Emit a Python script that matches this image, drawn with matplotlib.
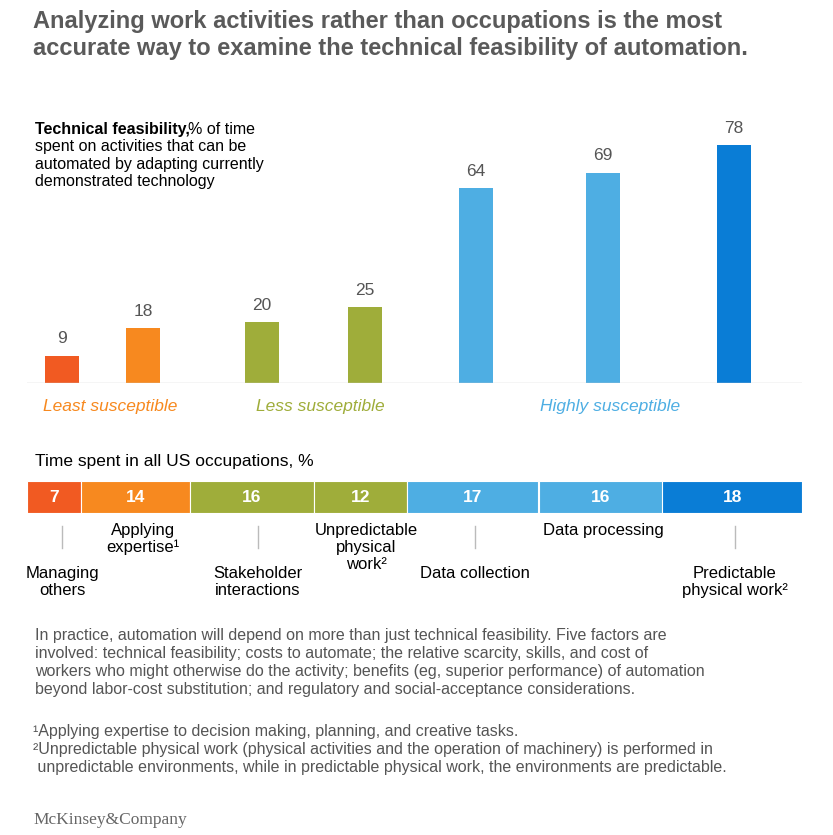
import matplotlib
matplotlib.use("Agg")
import matplotlib.pyplot as plt

plt.rcParams["font.family"] = ["Liberation Sans", "DejaVu Sans"]

W, H = 833, 835

# data
feas_values = [9, 18, 20, 25, 64, 69, 78]
feas_colors = ["#f15a22", "#f7891f", "#9fad3a", "#9fad3a", "#4eaee3", "#4eaee3", "#0a7dd6"]
groups = ["Least susceptible", "Less susceptible", "Highly susceptible"]
group_colors = ["#f7891f", "#9fad3a", "#4eaee3"]

time_values = [7, 14, 16, 12, 17, 16, 18]
time_labels = ["Managing\nothers", "Applying\nexpertise\u00b9", "Stakeholder\ninteractions",
               "Unpredictable\nphysical\nwork\u00b2", "Data collection", "Data processing",
               "Predictable\nphysical work\u00b2"]

fig = plt.figure(figsize=(W / 100, H / 100), dpi=100)
fig.patch.set_facecolor("white")

def fx(px):
    return px / W

def fy(py):
    return 1 - py / H

# title
fig.text(fx(33), fy(10), "Analyzing work activities rather than occupations is the most\n"
         "accurate way to examine the technical feasibility of automation.",
         fontsize=17, fontweight="bold", color="#5a5a5a", va="top", ha="left", linespacing=1.2)

fig.text(fx(35), fy(122), "Technical feasibility,", fontsize=11.5, fontweight="bold",
         va="top", ha="left")
fig.text(fx(35), fy(122), "                                  % of time\n"
         "spent on activities that can be\nautomated by adapting currently\ndemonstrated technology",
         fontsize=11.5, va="top", ha="left", linespacing=1.2)

# top bar chart: pixel x coords as axis units
bar_x = [62, 143, 262, 365, 476, 603, 734]
ax = fig.add_axes([fx(27), fy(383), fx(802 - 27), (383 - 100) / H])
ax.set_xlim(27, 802)
ax.set_ylim(0, (383 - 100) / 3.05)
ax.bar(bar_x, feas_values, width=34, color=feas_colors)
for x, v in zip(bar_x, feas_values):
    ax.text(x, v + 3, str(v), ha="center", va="bottom", fontsize=12.5, color="#555555")
ax.axhline(0, color="#cccccc", lw=1)
ax.axis("off")

for gx, g, c in zip([110, 320, 610], groups, group_colors):
    fig.text(fx(gx), fy(407), g, color=c, style="italic", fontsize=12.5, ha="center", va="center")

fig.text(fx(35), fy(461), "Time spent in all US occupations, %", fontsize=12.5, ha="left", va="center")

# stacked bar
ax2 = fig.add_axes([fx(27), fy(513), fx(775), 32 / H])
ax2.set_xlim(0, 100)
ax2.set_ylim(0, 1)
left = 0
for v, c in zip(time_values, feas_colors):
    ax2.barh(0.5, v, left=left, height=1, color=c, edgecolor="white", linewidth=0.8)
    ax2.text(left + v / 2, 0.5, str(v), color="white", fontsize=12.5, fontweight="bold",
             ha="center", va="center")
    left += v
ax2.axis("off")

# labels under stacked bar
label_x = [62, 143, 258, 366, 475, 603, 735]
low = [True, False, True, False, True, False, True]
for x, lab, lo in zip(label_x, time_labels, low):
    if lo:
        fig.add_artist(plt.Line2D([fx(x), fx(x)], [fy(526), fy(548)], color="#bbbbbb", lw=1))
        fig.text(fx(x), fy(566), lab, ha="center", va="top", fontsize=12, linespacing=1.15)
    else:
        fig.text(fx(x), fy(523), lab, ha="center", va="top", fontsize=12, linespacing=1.15)

fig.text(fx(35), fy(628), "In practice, automation will depend on more than just technical feasibility. Five factors are\n"
         "involved: technical feasibility; costs to automate; the relative scarcity, skills, and cost of\n"
         "workers who might otherwise do the activity; benefits (eg, superior performance) of automation\n"
         "beyond labor-cost substitution; and regulatory and social-acceptance considerations.",
         fontsize=11.5, color="#555555", va="top", ha="left", linespacing=1.25)

fig.text(fx(33), fy(724), "\u00b9Applying expertise to decision making, planning, and creative tasks.\n"
         "\u00b2Unpredictable physical work (physical activities and the operation of machinery) is performed in\n"
         " unpredictable environments, while in predictable physical work, the environments are predictable.",
         fontsize=11.5, color="#555555", va="top", ha="left", linespacing=1.25)

fig.text(fx(33), fy(820), "McKinsey&Company", family="Liberation Serif", fontsize=12.5,
         color="#666666", ha="left", va="center")

fig.savefig("out.png", dpi=100)
